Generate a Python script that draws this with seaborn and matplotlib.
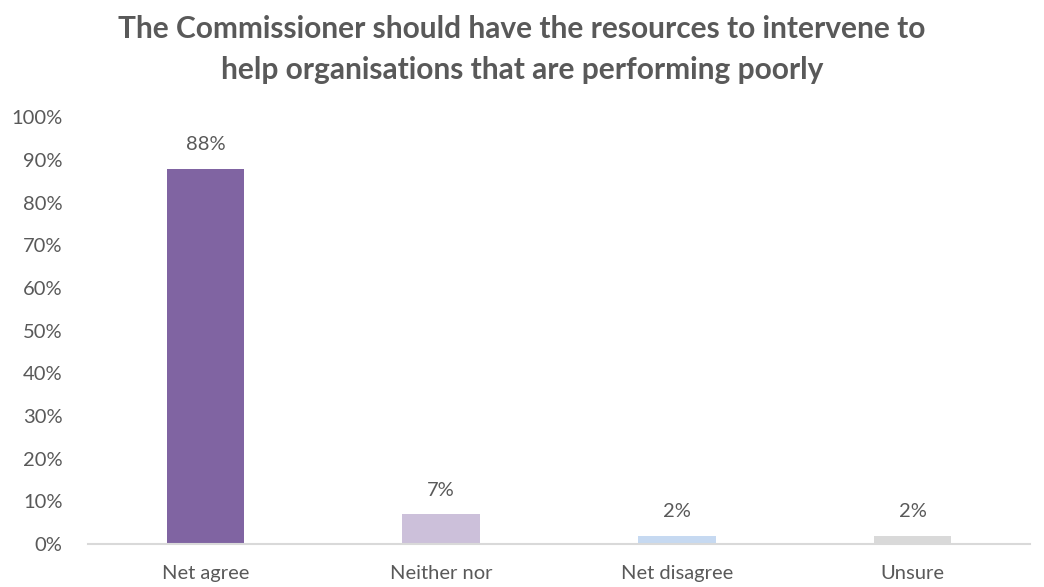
import matplotlib
matplotlib.use("Agg")
import matplotlib.pyplot as plt
import seaborn as sns
import pandas as pd
from matplotlib.ticker import MultipleLocator, PercentFormatter

categories = ["Net agree", "Neither nor", "Net disagree", "Unsure"]
values = [88, 7, 2, 2]
bar_colors = ["#8064A2", "#CCC0DA", "#C6D9F1", "#D9D9D9"]
title = "The Commissioner should have the resources to intervene to\nhelp organisations that are performing poorly"

sns.set_theme(style="white")
plt.rcParams["font.family"] = ["Lato", "DejaVu Sans"]

df = pd.DataFrame({"category": categories, "value": values})

fig, ax = plt.subplots(figsize=(10.44, 5.87), dpi=100)
fig.subplots_adjust(left=0.084, right=0.987, top=0.80, bottom=0.073)

sns.barplot(data=df, x="category", y="value", hue="category",
            palette=bar_colors, width=0.33, legend=False, ax=ax,
            saturation=1, linewidth=0)

text_color = "#595959"
for i, v in enumerate(values):
    ax.annotate(f"{v}%", xy=(i, v), xytext=(0, 11), textcoords="offset points",
                ha="center", va="bottom", fontsize=14.5, color=text_color)

ax.set_ylim(0, 100)
ax.set_xlim(-0.5, 3.5)
ax.yaxis.set_major_locator(MultipleLocator(10))
ax.yaxis.set_major_formatter(PercentFormatter(decimals=0))
ax.set_xlabel("")
ax.set_ylabel("")
ax.tick_params(axis="both", labelsize=14.5, colors=text_color, length=0)
ax.tick_params(axis="x", pad=15)
ax.tick_params(axis="y", pad=18)

for side in ["top", "right", "left"]:
    ax.spines[side].set_visible(False)
ax.spines["bottom"].set_color("#D9D9D9")
ax.spines["bottom"].set_linewidth(1.5)

fig.suptitle(title, fontsize=21.5, fontweight="bold", color=text_color,
             y=0.975, linespacing=1.6)

fig.savefig("out.png", dpi=100)
